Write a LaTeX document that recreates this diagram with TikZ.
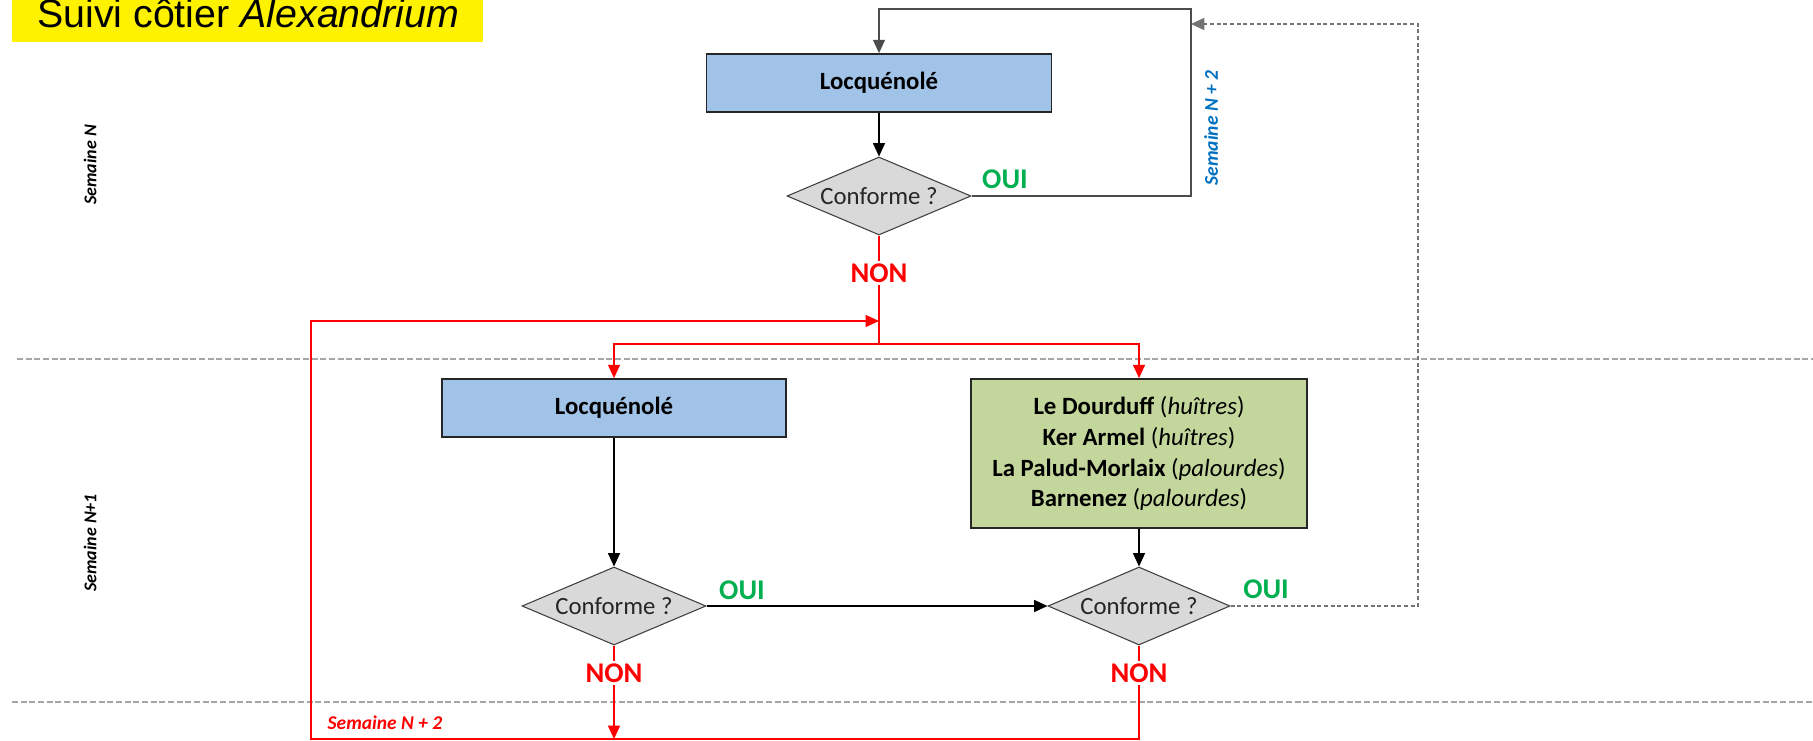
\documentclass[tikz,border=0pt]{standalone}
\usepackage{fontspec}
\setmainfont{Carlito}
\newfontfamily\arialf{Liberation Sans}
\usetikzlibrary{shapes.geometric,arrows.meta}
\definecolor{boxblue}{HTML}{A2C3E8}
\definecolor{boxgreen}{HTML}{C3D69B}
\definecolor{diagray}{HTML}{D9D9D9}
\definecolor{okgreen}{HTML}{00B050}
\definecolor{semblue}{HTML}{0070C0}
\definecolor{sepgray}{HTML}{A6A6A6}
\definecolor{dashgray}{HTML}{737373}
\definecolor{txtdark}{HTML}{262626}
\tikzset{
  tip/.style={-{Triangle[length=10pt,width=9pt]}},
  conn/.style={draw=black,line width=1pt},
  redconn/.style={draw=red,line width=1pt},
  bluebox/.style={draw=black!85,line width=1.3pt,fill=boxblue,minimum width=258.75pt,minimum height=43.5pt,inner sep=0pt,font=\fontsize{18.6}{22}\selectfont\bfseries},
  greenbox/.style={draw=black!85,line width=1.3pt,fill=boxgreen,minimum width=252pt,minimum height=111.75pt,inner sep=0pt,align=center,font=\fontsize{18.6}{23.2}\selectfont},
  dia/.style={shape=diamond,draw=black!75,line width=0.8pt,fill=diagray,aspect=2.36,minimum width=138pt,minimum height=58.5pt,inner sep=0pt,text=txtdark,font=\fontsize{18.6}{22}\selectfont},
  oui/.style={text=okgreen,font=\fontsize{21.4}{24}\selectfont\bfseries,inner sep=0pt},
  non/.style={text=red,font=\fontsize{21.4}{24}\selectfont\bfseries,fill=white,inner sep=2pt},
  semside/.style={rotate=90,font=\fontsize{13.5}{16}\selectfont\bfseries\itshape,inner sep=0pt},
  semnext/.style={font=\fontsize{14.6}{17}\selectfont\bfseries\itshape,inner sep=0pt},
  sepline/.style={draw=sepgray,line width=1pt,dash pattern=on 4.5pt off 2pt},
  dashconn/.style={draw=dashgray,line width=1.3pt,dash pattern=on 3pt off 2pt}
}
\begin{document}
\begin{tikzpicture}[x=0.75pt,y=-0.75pt]
\useasboundingbox (0,0) rectangle (1813,741);
% title
\fill[yellow] (12,0) rectangle (483,42);
\node[anchor=base west,inner sep=0pt,font=\arialf\fontsize{29.5}{32}\selectfont] (title) at (37,28) {Suivi côtier \textit{Alexandrium}};
% separators
\draw[sepline] (17,359) -- (1813,359);
\draw[sepline] (12,702) -- (1813,702);
% side labels
\node[semside] (sN) at (90,165) {Semaine N};
\node[semside] (sN1) at (90,543) {Semaine N+1};
% nodes
\node[bluebox] (L1) at (879,83) {Locquénolé};
\node[dia] (D1) at (879,196) {Conforme ?};
\node[bluebox,minimum width=258pt] (L2) at (614,408) {Locquénolé};
\node[dia] (D2) at (614,606) {Conforme ?};
\node[greenbox] (G) at (1139,453.5) {\textbf{Le Dourduff} (\textit{huîtres})\\\textbf{Ker Armel} (\textit{huîtres})\\\textbf{La Palud-Morlaix} (\textit{palourdes})\\\textbf{Barnenez} (\textit{palourdes})};
\node[dia,minimum width=136.5pt] (D3) at (1139,606) {Conforme ?};
% coordinates
\coordinate (lt) at (1191,9);
\coordinate (rs) at (879,344);
\coordinate (bl) at (311,739);
\coordinate (tl) at (311,321);
\coordinate (rin) at (879,321);
\coordinate (dr) at (1418,24);
\coordinate (dl) at (1191,24);
% black connectors
\draw[conn,tip] (L1) -- (D1);
\draw[conn,draw=black!70,tip] (D1.east) -| (lt) -| (L1.north);
\draw[conn,tip] (L2) -- (D2);
\draw[conn,tip] (G) -- (D3);
\draw[conn,tip] (D2.east) -- (D3.west);
% dashed return
\draw[dashconn,tip] (D3.east) -| (dr) -- (dl);
% red connectors
\draw[redconn] (D1.south) -- (rs);
\draw[redconn,tip] (rs) -| (L2.north);
\draw[redconn,tip] (rs) -| (G.north);
\draw[redconn,tip] (D3.south) |- (bl) -- (tl) -- (rin);
\draw[redconn,tip] (D2.south) -- (D2.south |- bl);
% labels
\node[oui] (o1) at (1005,179) {OUI};
\node[oui] (o2) at (742,590) {OUI};
\node[oui] (o3) at (1266,589) {OUI};
\node[non] (n1) at (879,273) {NON};
\node[non] (n2) at (614,673) {NON};
\node[non] (n3) at (1139,673) {NON};
\node[semnext,rotate=90,text=semblue] (sb) at (1211,128) {Semaine N + 2};
\node[semnext,text=red] (sr) at (385,723) {Semaine N + 2};
\end{tikzpicture}
\end{document}
